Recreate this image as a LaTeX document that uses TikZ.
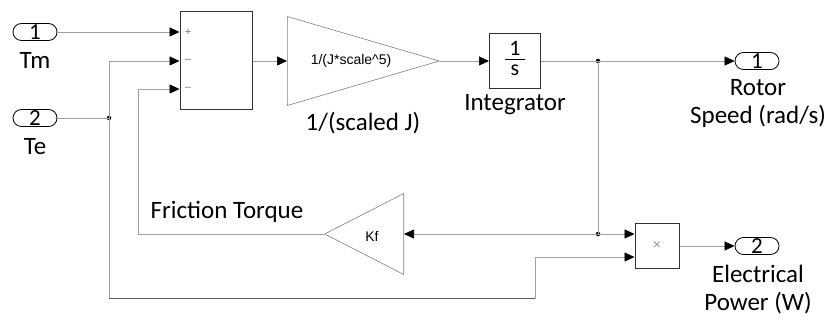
\documentclass[tikz,border=0pt]{standalone}
\usepackage{fontspec}
\setmainfont{Carlito}
\newfontfamily\arialfont{Liberation Sans}
\usetikzlibrary{arrows.meta,positioning,shapes.geometric}
\definecolor{wiregray}{HTML}{A0A0A0}

\begin{document}
\begin{tikzpicture}[
      x=1pt, y=-1pt,
      blk/.style={draw=black!80, line width=1pt, fill=white, inner sep=0pt},
      port/.style={draw=black, line width=0.8pt, rounded corners=8.5pt, minimum width=44pt, minimum height=17pt, inner sep=0pt, font=\fontsize{23}{23}\selectfont},
      gaintri/.style={isosceles triangle, isosceles triangle stretches, draw=black!50, line width=0.6pt, inner sep=0pt},
      lbl/.style={font=\fontsize{25}{28}\selectfont, align=center},
      small/.style={font=\arialfont\fontsize{14}{14}\selectfont},
      sgn/.style={font=\arialfont\fontsize{11}{11}\selectfont, text=black!55},
      link/.style={draw=wiregray, line width=0.7pt},
      sig/.style={link, -{Triangle[length=10pt, width=9pt, color=black]}},
      dot/.style={circle, fill=black, inner sep=0pt, minimum size=4.5pt}
  ]
    \useasboundingbox (0,0) rectangle (829,320);
    % inputs
    \node[port] (in1) at (35,32) {1};
    \node[lbl] (tm) at (35,60) {Tm};
    \node[port] (in2) at (35,118) {2};
    \node[lbl] (te) at (35,147) {Te};
    % forward path
    \node[blk, minimum width=72pt, minimum height=98pt] (sum) at (216,61) {};
    \node[sgn] (plus1) at (188,32) {+};
    \node[sgn] (minus1) at (188,61) {–};
    \node[sgn] (minus2) at (188,89) {–};
    \node[gaintri, minimum width=89pt, minimum height=152pt, anchor=lower side] (gain) at (287,61) {};
    \node[small] (gainval) at (351,61) {1/(J*scale\^{}5)};
    \node[lbl] (gainname) at (363,123) {1/(scaled J)};
    \node[blk, minimum width=51pt, minimum height=55pt, font=\fontsize{22}{23}\selectfont] (integ) at (515,61)
      {\begin{tabular}{@{\hspace{4pt}}c@{\hspace{4pt}}}1\\[-3pt]\hline s\end{tabular}};
    \node[lbl] (integname) at (515,105) {Integrator};
    \node[port] (out1) at (757,61) {1};
    \node[lbl] (out1name) at (758,103) {Rotor\\Speed (rad/s)};
    % friction and power
    \node[gaintri, shape border rotate=180, minimum width=81pt, minimum height=79pt, anchor=lower side] (kf) at (404,234) {};
    \node[small] (kfval) at (372,236) {Kf};
    \node[lbl] (fric) at (227,212) {Friction Torque};
    \node[blk, minimum width=44pt, minimum height=45pt, text=black!40, font=\arialfont\fontsize{14}{14}\selectfont] (prod) at (657,246) {×};
    \node[port] (out2) at (757,246) {2};
    \node[lbl] (out2name) at (758,290) {Electrical\\Power (W)};
    % branch points
    \node[dot] (j1) at (109,118) {};
    \node[dot] (j2) at (598,61) {};
    \node[dot] (j3) at (598,234) {};
    \coordinate (fb) at (138,234);
    \coordinate (bl) at (109,298);
    \coordinate (br) at (535,298);
    \coordinate (pin2) at ([yshift=-11pt]prod.west);
    % wires
    \draw[sig] (in1.east) -- (sum.west |- in1);
    \draw[link] (in2.east) -- (j1.center);
    \draw[sig] (j1.center) |- (sum.west);
    \draw[sig] (j1.center) -- (bl) -- (br) |- (pin2);
    \draw[link, draw=black!65] (bl) -- (br);
    \draw[sig] (sum.east) -- (gain.lower side);
    \draw[sig] (gain.apex) -- (integ.west);
    \draw[link] (integ.east) -- (j2.center);
    \draw[sig] (j2.center) -- (out1.west);
    \draw[link] (j2.center) -- (j3.center);
    \draw[sig] (j3.center) -- (prod.west |- j3);
    \draw[sig] (j3.center) -- (kf.lower side);
    \draw[sig] (kf.apex) -- (fb) |- ([yshift=-28pt]sum.west);
    \draw[sig] (prod.east) -- (out2.west);
  \end{tikzpicture}
\end{document}
